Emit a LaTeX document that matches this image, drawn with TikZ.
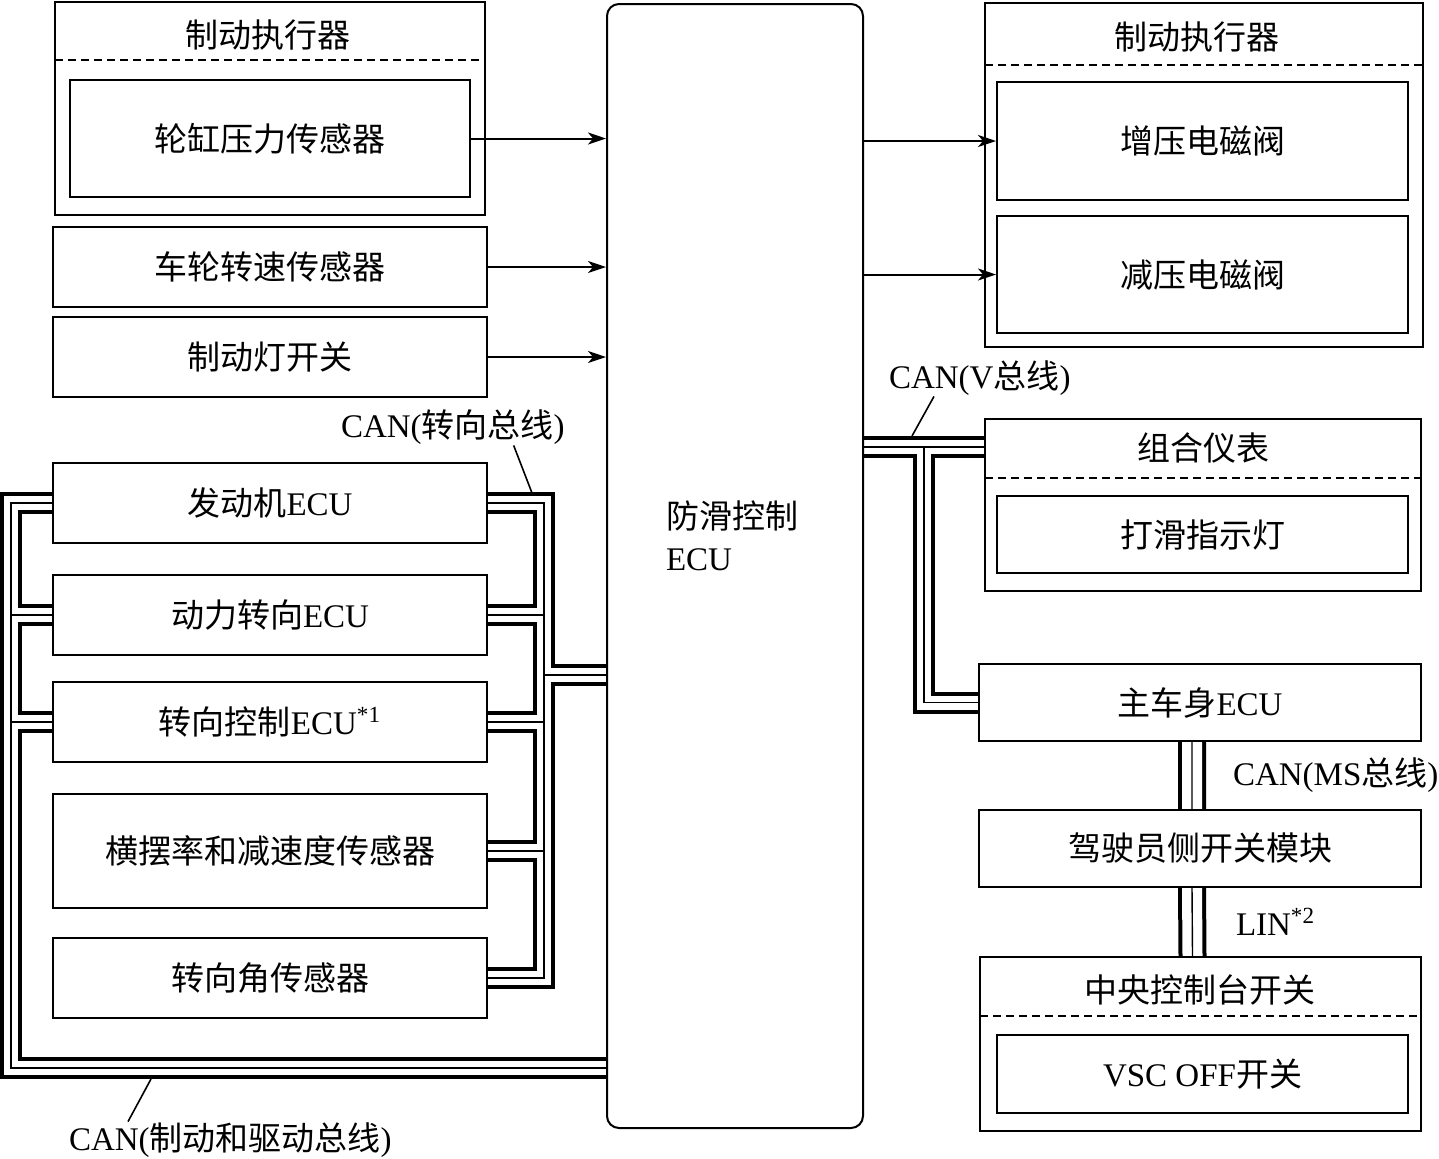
\documentclass[tikz,border=0pt]{standalone}
\usepackage{fontspec}
\setmainfont{Liberation Serif}
\newfontfamily\cjk{Noto Sans CJK SC}
\usetikzlibrary{arrows.meta}
\newcommand{\lat}[1]{{\rmfamily #1}}
\pgfdeclarelayer{bg}
\pgfsetlayers{bg,main}

\begin{document}
\begin{tikzpicture}[x=0.5pt,y=-0.5pt,line width=1pt,
  part/.style={draw,rectangle,inner sep=0pt,minimum width=217pt,minimum height=40pt,font=\fontsize{16.5}{20}\selectfont\cjk},
  txt/.style={inner sep=0pt,font=\fontsize{16.5}{20}\selectfont\cjk},
  divline/.style={dash pattern=on 4pt off 2.5pt,line width=.7pt},
  sig/.style={line width=1pt,-{Stealth[length=9pt,width=6pt,inset=2.5pt]}},
  bus/.style={line width=11pt,postaction={draw=white,line width=7pt},postaction={draw=black,line width=.7pt}},
  widebus/.style={line width=14pt,postaction={draw=white,line width=10pt},postaction={draw=black,line width=.7pt}}]
\path[use as bounding box] (0,0) rectangle (1439,1158);
% left column
\node[part,minimum width=215pt,minimum height=106.5pt] (brkL) at (270,108.5) {};
\node[txt] (brkLt) at (268,35) {制动执行器};
\draw[divline] (55,60) -- (485,60);
\node[part,minimum width=200pt,minimum height=58.5pt] (wcp) at (270,138.5) {轮缸压力传感器};
\node[part] (wss) at (270,267) {车轮转速传感器};
\node[part] (bls) at (270,357) {制动灯开关};
\node[part] (eng) at (270,503) {发动机\lat{ECU}};
\node[part] (eps) at (270,615) {动力转向\lat{ECU}};
\node[part] (scu) at (270,722) {转向控制\lat{ECU\textsuperscript{*1}}};
\node[part,minimum height=57pt] (yaw) at (270,851) {横摆率和减速度传感器};
\node[part] (sas) at (270,978) {转向角传感器};
% skid control ECU
\node[draw,rounded corners=6pt,minimum width=128pt,minimum height=562pt,inner sep=0pt] (ecu) at (735,566) {};
\node[txt,align=left,font=\fontsize{16.5}{21}\selectfont\cjk] (ecut) at (732,536) {防滑控制\\\lat{ECU}};
% right column
\node[part,minimum width=219pt,minimum height=172pt] (brkR) at (1204,175) {};
\node[txt] (brkRt) at (1197,37) {制动执行器};
\draw[divline] (985,65) -- (1423,65);
\node[part,minimum width=205.5pt,minimum height=59pt] (inc) at (1202.5,141) {增压电磁阀};
\node[part,minimum width=205.5pt,minimum height=58.5pt] (dec) at (1202.5,274.5) {减压电磁阀};
\node[part,minimum width=218pt,minimum height=86pt] (clu) at (1203,505) {};
\node[txt] (clut) at (1203,448) {组合仪表};
\draw[divline] (985,478) -- (1421,478);
\node[part,minimum width=205.5pt,minimum height=38.5pt] (slip) at (1202.5,534.5) {打滑指示灯};
\node[part,minimum width=221pt,minimum height=38.5pt] (bcm) at (1200,702.5) {主车身\lat{ECU}};
\node[part,minimum width=221pt,minimum height=38.5pt] (dsw) at (1200,848.5) {驾驶员侧开关模块};
\node[part,minimum width=220.5pt,minimum height=87pt] (ccs) at (1200.5,1044) {};
\node[txt] (ccst) at (1200,990) {中央控制台开关};
\draw[divline] (980,1016) -- (1421,1016);
\node[part,minimum width=205.5pt,minimum height=39pt] (vsc) at (1202.5,1074) {\lat{VSC OFF}开关};
% signal arrows
\draw[sig] (wcp.east) -- (wcp.east -| ecu.west);
\draw[sig] (wss.east) -- (wss.east -| ecu.west);
\draw[sig] (bls.east) -- (bls.east -| ecu.west);
\draw[sig] (ecu.east |- inc.west) -- (inc.west);
\draw[sig] (ecu.east |- dec.west) -- (dec.west);
% bus labels
\node[txt,anchor=west] (lblS) at (340,427) {\lat{CAN(}转向总线\lat{)}};
\node[txt,anchor=west] (lblV) at (888,378) {\lat{CAN(V}总线\lat{)}};
\node[txt,anchor=west] (lblMS) at (1232,775) {\lat{CAN(MS}总线\lat{)}};
\node[txt,anchor=west] (lblLIN) at (1235,922) {\lat{LIN\textsuperscript{*2}}};
\node[txt,anchor=west] (lblB) at (68,1140) {\lat{CAN(}制动和驱动总线\lat{)}};
\coordinate (bL) at (11,1068);
\coordinate (bS) at (544,978);
\coordinate (jS) at (544,675);
\coordinate (jV) at (924,447);
\coordinate (pS) at (532,493);
\coordinate (pV) at (912,436);
\coordinate (pB) at (151,1079);
\draw[line width=.8pt] ([xshift=-26pt]lblS.south east) -- (pS);
\draw[line width=.8pt] ([xshift=23pt]lblV.south west) -- (pV);
\draw[line width=.8pt] ([xshift=30pt]lblB.north west) -- (pB);
% buses
\begin{pgfonlayer}{bg}
\draw[bus] (eng.west) -| (bL) -- (bL -| ecu.west)
  (eps.west) -- (eps.west -| bL)
  (scu.west) -- (scu.west -| bL);
\draw[bus] (eng.east) -| (bS) -- (sas.east)
  (eps.east) -- (eps.east -| bS)
  (scu.east) -- (scu.east -| bS)
  (yaw.east) -- (yaw.east -| bS)
  (jS) -- (jS -| ecu.west);
\draw[bus] (jV -| ecu.east) -- (jV -| clu.west)
  (jV) |- (bcm.west);
\draw[widebus] ([xshift=-4pt]bcm.south) -- ([xshift=-4pt]dsw.north)
  ([xshift=-4pt]dsw.south) -- ([xshift=-4pt]ccs.north);
\end{pgfonlayer}
\end{tikzpicture}
\end{document}
